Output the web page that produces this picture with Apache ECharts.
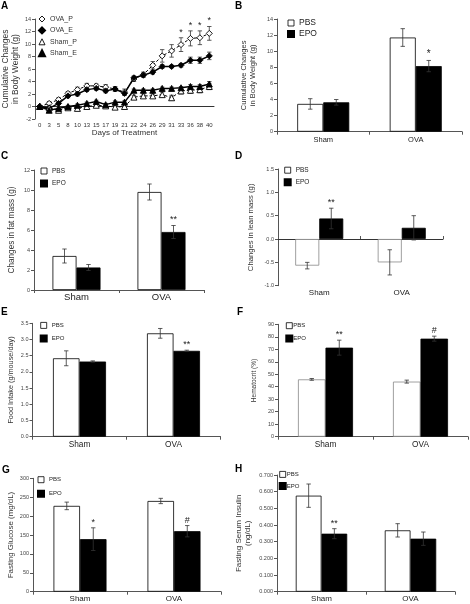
<!DOCTYPE html>
<html><head><meta charset="utf-8">
<script src="https://cdn.jsdelivr.net/npm/echarts@6/dist/echarts.min.js"></script>
<style>html,body{margin:0;padding:0;background:#fff}#c{width:470px;height:604px}</style>
</head><body><div id="c"></div><script>
const FONT = '"Liberation Sans", Arial, sans-serif';

// ---- Panel A data ----
const days = ['0','3','5','8','10','13','15','17','19','21','22','24','26','29','31','33','36','38','40'];
const ovaP    = [0, 0.5, 1.1, 2.1, 2.7, 3.3, 3.3, 3.1, 2.8, 2.3, 4.4, 5.1, 6.6, 8.1, 8.9, 9.9, 10.9, 11.0, 11.7];
const ovaPErr = [0, 0.3, 0.3, 0.3, 0.4, 0.4, 0.3, 0.4, 0.4, 0.5, 0.4, 0.4, 0.6, 1.0, 1.0, 1.1, 1.2, 1.1, 1.1];
const ovaE    = [0, -0.3, 0.5, 1.7, 2.0, 2.7, 2.9, 2.5, 2.8, 2.1, 4.6, 5.0, 5.5, 6.4, 6.4, 6.6, 7.4, 7.4, 8.1];
const ovaEErr = [0, 0.2, 0.2, 0.3, 0.3, 0.3, 0.3, 0.3, 0.3, 0.3, 0.3, 0.3, 0.3, 0.3, 0.2, 0.3, 0.5, 0.5, 0.6];
const shamP    = [0, -0.2, -0.6, -0.2, -0.3, 0.0, 0.2, 0.1, -0.1, 0.0, 1.5, 1.7, 1.7, 1.9, 1.4, 2.5, 2.6, 2.7, 3.2];
const shamPErr = [0, 0.2, 0.3, 0.3, 0.3, 0.3, 0.3, 0.3, 0.3, 0.3, 0.3, 0.3, 0.3, 0.4, 0.4, 0.5, 0.5, 0.5, 0.5];
const shamE    = [0, -0.6, -0.3, 0.0, 0.2, 0.5, 0.8, 0.3, 0.7, 0.7, 2.6, 2.6, 2.6, 2.9, 2.9, 3.0, 3.2, 3.2, 3.6];
const shamEErr = [0, 0.2, 0.2, 0.2, 0.2, 0.2, 0.2, 0.2, 0.2, 0.2, 0.2, 0.2, 0.2, 0.2, 0.2, 0.2, 0.3, 0.3, 0.4];
const sigA = ['','','','','','','','','','','','','','','','*','*','*','*'];

// ---- Bar panels data ----
const groups = ['Sham', 'OVA'];
const bPBS = [3.45, 11.7], bPBSErr = [0.65, 1.1], bEPO = [3.65, 8.15], bEPOErr = [0.35, 0.7], bSig = ['', '*'];
const cPBS = [3.4, 9.8],  cPBSErr = [0.7, 0.8],  cEPO = [2.25, 5.8], cEPOErr = [0.3, 0.65], cSig = ['', '**'];
const dPBS = [-0.57, -0.5], dPBSErr = [0.07, 0.27], dEPO = [0.44, 0.24], dEPOErr = [0.22, 0.26], dSig = ['**', ''];
const ePBS = [2.42, 3.19], ePBSErr = [0.23, 0.15], eEPO = [2.32, 2.65], eEPOErr = [0.02, 0.02], eSig = ['', '**'];
const fPBS = [45.9, 44.1], fPBSErr = [0.7, 1.2], fEPO = [71.3, 78.5], fEPOErr = [6, 2], fSig = ['**', '#'];
const gPBS = [227, 240], gPBSErr = [10, 7], gEPO = [139, 160], gEPOErr = [30, 15], gSig = ['*', '#'];
const hPBS = [0.576, 0.368], hPBSErr = [0.07, 0.04], hEPO = [0.348, 0.318], hEPOErr = [0.03, 0.04], hSig = ['**', ''];

const grids = [], xAxes = [], yAxes = [], series = [], legends = [], graphics = [];

function errSeries(xi, yi, vals, errs, sig, offset, sigSize) {
  return {
    type: 'custom', xAxisIndex: xi, yAxisIndex: yi, silent: true, z: 4,
    data: vals.map((v, i) => [i, v, errs[i]]),
    encode: { x: 0, y: 1 },
    renderItem(params, api) {
      const i = api.value(0), v = api.value(1), e = api.value(2);
      const s = sig ? sig[params.dataIndex] : '';
      const top = api.coord([i, v + e]), bot = api.coord([i, v - e]);
      const x = top[0] + offset, cap = 2.2;
      const st = { stroke: '#333', lineWidth: 0.8 };
      const ch = [];
      if (e > 0) {
        ch.push({ type: 'line', shape: { x1: x, y1: top[1], x2: x, y2: bot[1] }, style: st });
        ch.push({ type: 'line', shape: { x1: x - cap, y1: top[1], x2: x + cap, y2: top[1] }, style: st });
        ch.push({ type: 'line', shape: { x1: x - cap, y1: bot[1], x2: x + cap, y2: bot[1] }, style: st });
      }
      if (s) ch.push({ type: 'text', x: x, y: top[1] - 1, style: { text: s, fill: '#222', font: (sigSize || 9) + 'px ' + FONT, align: 'center', verticalAlign: 'bottom' } });
      return { type: 'group', children: ch };
    }
  };
}

const yLabel = (dec) => ({ fontSize: 5.5, color: '#444', margin: 4, fontFamily: FONT, formatter: v => Number(v).toFixed(dec) });
const axLine = { show: true, onZero: false, lineStyle: { color: '#555', width: 1 } };

// ---- Panel A ----
(function () {
  const gi = grids.length;
  grids.push({ left: 33, top: 19, width: 181, height: 100 });
  const yi = yAxes.length;
  yAxes.push({ type: 'value', gridIndex: gi, min: -2, max: 14, interval: 2,
    name: 'Cumulative Changes\nin Body Weight (g)', nameLocation: 'middle', nameRotate: 90, nameGap: 14,
    nameTextStyle: { fontSize: 8.5, color: '#333', fontFamily: FONT, lineHeight: 10 },
    axisLine: axLine, axisTick: { show: true, length: 3, lineStyle: { color: '#555' } },
    axisLabel: yLabel(0), splitLine: { show: false } });
  const xi = xAxes.length;
  xAxes.push({ type: 'category', gridIndex: gi, data: days, axisLine: { show: false, onZero: false },
    axisTick: { show: false }, axisLabel: { fontSize: 6, color: '#333', margin: 3, interval: 0, fontFamily: FONT },
    name: 'Days of Treatment', nameLocation: 'middle', nameGap: 10,
    nameTextStyle: { fontSize: 8, color: '#333', fontFamily: FONT } });
  xAxes.push({ type: 'category', gridIndex: gi, data: days, axisLine: { show: true, onZero: true, lineStyle: { color: '#333', width: 1 } },
    axisTick: { show: false }, axisLabel: { show: false } });
  const defs = [
    ['OVA_P', ovaP, ovaPErr, 'diamond', true, sigA],
    ['OVA_E', ovaE, ovaEErr, 'diamond', false, null],
    ['Sham_P', shamP, shamPErr, 'triangle', true, null],
    ['Sham_E', shamE, shamEErr, 'triangle', false, null]
  ];
  defs.forEach(([name, vals, errs, sym, open, sig]) => {
    series.push(errSeries(xi, yi, vals, errs, sig, 0, 9));
    series.push({ name, type: 'line', xAxisIndex: xi, yAxisIndex: yi, data: vals, z: 5,
      symbol: sym, symbolSize: 6, showAllSymbol: true,
      lineStyle: { color: '#000', width: open ? 1 : 1.5, type: open ? [3, 2] : 'solid' },
      itemStyle: { color: open ? '#fff' : '#000', borderColor: '#000', borderWidth: 0.9 } });
  });
  legends.push({ left: 38, top: 15.5, padding: 0, orient: 'vertical', itemWidth: 6, itemHeight: 6, itemGap: 3.9, selectedMode: false,
    textStyle: { fontSize: 7, color: '#333', fontFamily: FONT },
    data: [
      { name: 'OVA_P', icon: 'diamond', itemStyle: { color: '#fff', borderColor: '#000', borderWidth: 0.9 } },
      { name: 'OVA_E', icon: 'diamond', itemStyle: { color: '#000', borderColor: '#000' } },
      { name: 'Sham_P', icon: 'triangle', itemStyle: { color: '#fff', borderColor: '#000', borderWidth: 0.9 } },
      { name: 'Sham_E', icon: 'triangle', itemStyle: { color: '#000', borderColor: '#000' } }
    ] });
})();

// ---- Bar panels ----
function addBarPanel(L, pbs, pbsErr, epo, epoErr, sig) {
  const gi = grids.length;
  grids.push(L.grid);
  const yi = yAxes.length;
  yAxes.push({ type: 'value', gridIndex: gi, min: L.y[0], max: L.y[1], interval: L.y[2],
    name: L.yName, nameLocation: 'middle', nameRotate: 90, nameGap: L.nameGap,
    nameTextStyle: { fontSize: L.yNameSize, color: '#333', fontFamily: FONT, lineHeight: L.yNameSize * 1.2 },
    axisLine: axLine, axisTick: { show: true, length: 3, lineStyle: { color: '#555' } },
    axisLabel: yLabel(L.dec), splitLine: { show: false } });
  const xi = xAxes.length;
  xAxes.push({ type: 'category', gridIndex: gi, data: groups,
    axisLine: { show: !L.zero, onZero: false, lineStyle: { color: '#555', width: 1 } },
    axisTick: { show: !L.zero, length: 3, lineStyle: { color: '#555' } },
    axisLabel: { fontSize: L.catFs, color: '#222', margin: L.catMargin || 4, fontFamily: FONT } });
  if (L.zero) xAxes.push({ type: 'category', gridIndex: gi, data: groups,
    axisLine: { show: true, onZero: true, lineStyle: { color: '#333', width: 1 } },
    axisTick: { show: true, length: 3, lineStyle: { color: '#555' } }, axisLabel: { show: false } });
  series.push({ name: 'PBS', type: 'bar', xAxisIndex: xi, yAxisIndex: yi, data: pbs, barWidth: L.bw, barGap: '0%', z: 2,
    itemStyle: { color: '#fff', borderColor: L.pbsBorder, borderWidth: 0.8 } });
  series.push({ name: 'EPO', type: 'bar', xAxisIndex: xi, yAxisIndex: yi, data: epo, barWidth: L.bw, barGap: '0%', z: 2,
    itemStyle: { color: '#000', borderColor: '#000', borderWidth: 0.8 } });
  series.push(errSeries(xi, yi, pbs, pbsErr, null, -L.bw / 2));
  series.push(errSeries(xi, yi, epo, epoErr, sig, L.bw / 2, L.sigSize));
  legends.push({ left: L.legend.left, top: L.legend.top, padding: 0, orient: 'vertical', itemWidth: 6, itemHeight: 6,
    itemGap: L.legend.gap, selectedMode: false,
    textStyle: { fontSize: L.legend.fs, color: '#222', fontFamily: FONT, padding: [0, 0, 0, L.legend.tp || 0] },
    data: [
      { name: 'PBS', icon: 'rect', itemStyle: { color: '#fff', borderColor: '#000', borderWidth: 0.8 } },
      { name: 'EPO', icon: 'rect', itemStyle: { color: '#000', borderColor: '#000' } }
    ] });
}

addBarPanel({ grid: { left: 277, top: 19, width: 185, height: 112.7 }, y: [0, 14, 2], dec: 0,
  yName: 'Cumulative Changes\nin Body Weight (g)', yNameSize: 7.5, nameGap: 20, bw: 26, pbsBorder: '#000',
  legend: { left: 287, top: 18.5, fs: 8.5, gap: 2.1 }, catFs: 7.5, sigSize: 10 }, bPBS, bPBSErr, bEPO, bEPOErr, bSig);
addBarPanel({ grid: { left: 34, top: 170, width: 170, height: 120 }, y: [0, 12, 2], dec: 0,
  yName: 'Changes in fat mass (g)', yNameSize: 8.2, nameGap: 17, bw: 24, pbsBorder: '#000',
  legend: { left: 40, top: 167.5, fs: 6.5, gap: 5.1 }, catFs: 9.5, catMargin: 2, sigSize: 9 }, cPBS, cPBSErr, cEPO, cEPOErr, cSig);
addBarPanel({ grid: { left: 278, top: 169, width: 165, height: 116.7 }, y: [-1, 1.5, 0.5], dec: 1,
  yName: 'Changes in lean mass (g)', yNameSize: 7.7, nameGap: 22, bw: 24, pbsBorder: '#888', zero: true,
  legend: { left: 283.7, top: 166.7, fs: 6.5, gap: 4.5 }, catFs: 8, catMargin: 3, sigSize: 9 }, dPBS, dPBSErr, dEPO, dEPOErr, dSig);
addBarPanel({ grid: { left: 32.5, top: 323.3, width: 188, height: 113.4 }, y: [0, 3.5, 0.5], dec: 1,
  yName: 'Food Intake (g/mouse/day)', yNameSize: 7.3, nameGap: 17, bw: 26.5, pbsBorder: '#000',
  legend: { left: 39.7, top: 322, fs: 6, gap: 5.7 }, catFs: 8.3, catMargin: 4, sigSize: 9 }, ePBS, ePBSErr, eEPO, eEPOErr, eSig);
addBarPanel({ grid: { left: 278, top: 324.3, width: 190, height: 112.4 }, y: [0, 90, 10], dec: 0,
  yName: 'Hematocrit (%)', yNameSize: 6.5, nameGap: 20, bw: 27.5, pbsBorder: '#888',
  legend: { left: 285.3, top: 322.3, fs: 6, gap: 5.4, tp: -4 }, catFs: 8.3, catMargin: 4, sigSize: 9 }, fPBS, fPBSErr, fEPO, fEPOErr, fSig);
addBarPanel({ grid: { left: 33, top: 478.3, width: 188, height: 113.4 }, y: [0, 300, 50], dec: 0,
  yName: 'Fasting Glucose (mg/dL)', yNameSize: 7.9, nameGap: 17, bw: 26.5, pbsBorder: '#000',
  legend: { left: 37, top: 476.3, fs: 6, gap: 6.7 }, catFs: 8, catMargin: 3, sigSize: 9 }, gPBS, gPBSErr, gEPO, gEPOErr, gSig);
addBarPanel({ grid: { left: 277, top: 475, width: 178, height: 116.7 }, y: [0, 0.7, 0.1], dec: 3,
  yName: 'Fasting Serum Insulin\n(ng/dL)', yNameSize: 8, nameGap: 24, bw: 25.7, pbsBorder: '#000',
  legend: { left: 278.7, top: 471, fs: 6, gap: 4.3, tp: -4 }, catFs: 8, catMargin: 3, sigSize: 9 }, hPBS, hPBSErr, hEPO, hEPOErr, hSig);

// ---- Panel letters ----
[['A', 1, 1.5], ['B', 235, 1.5], ['C', 1, 151.5], ['D', 235, 151.5], ['E', 1, 307.5], ['F', 237, 307.5], ['G', 2, 465], ['H', 235, 464.5]]
  .forEach(([t, x, y]) => graphics.push({ type: 'text', left: x, top: y,
    style: { text: t, font: 'bold 10px ' + FONT, fill: '#000' } }));

const chart = echarts.init(document.getElementById('c'), null, { renderer: 'canvas' });
chart.setOption({
  backgroundColor: '#fff', animation: false,
  textStyle: { fontFamily: FONT },
  grid: grids, xAxis: xAxes, yAxis: yAxes, series, legend: legends, graphic: graphics
});
</script></body></html>
